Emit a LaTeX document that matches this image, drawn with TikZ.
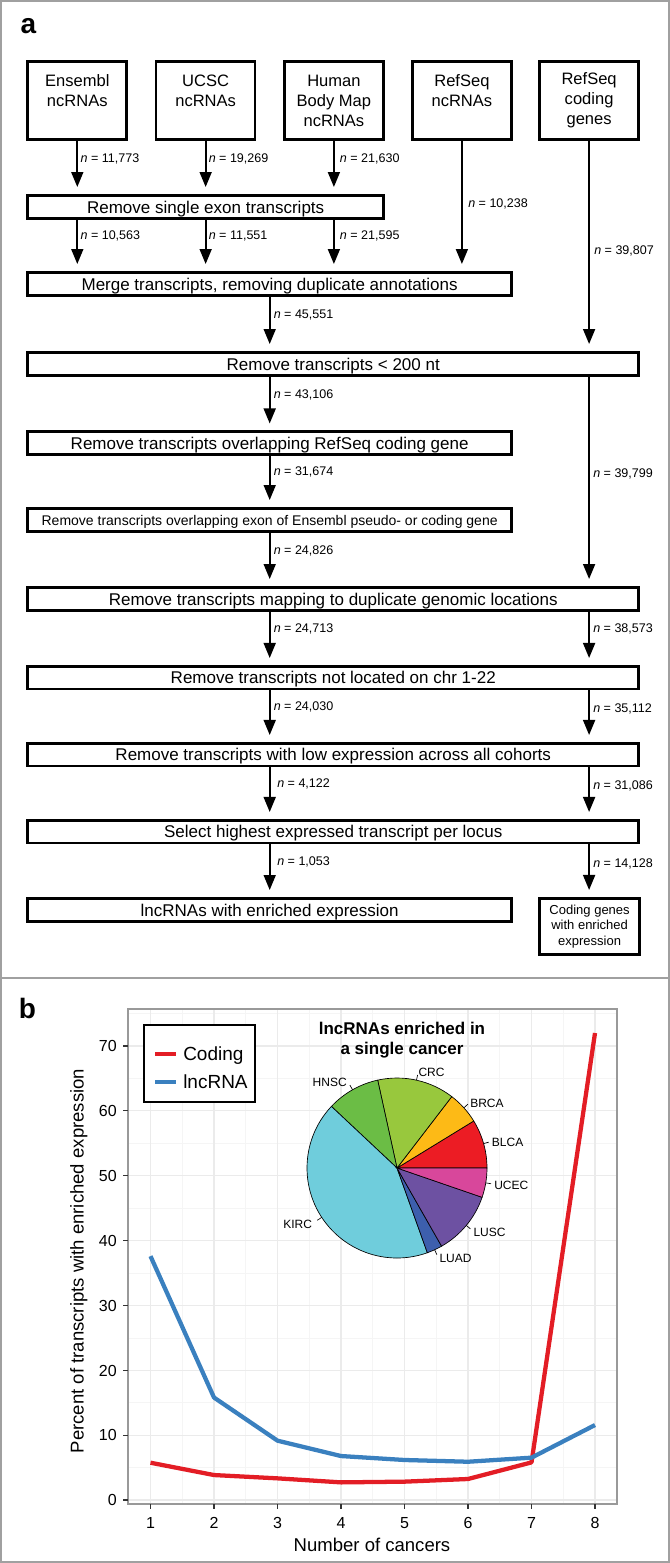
\documentclass[tikz,border=0pt]{standalone}
\usepackage{fontspec}
\setmainfont{Liberation Sans}
\usetikzlibrary{arrows.meta}
\definecolor{framegray}{HTML}{A0A0A0}
\definecolor{codred}{HTML}{E31D25}
\definecolor{lncblue}{HTML}{3A80BF}
\definecolor{cBLCA}{HTML}{EC1C24}
\definecolor{cBRCA}{HTML}{FDBA16}
\definecolor{cCRC}{HTML}{98C83D}
\definecolor{cHNSC}{HTML}{6BBD45}
\definecolor{cKIRC}{HTML}{6FCDDC}
\definecolor{cLUAD}{HTML}{3D5FAD}
\definecolor{cLUSC}{HTML}{6D51A2}
\definecolor{cUCEC}{HTML}{D8479B}
\definecolor{gridmaj}{HTML}{EBEBEB}
\definecolor{gridmin}{HTML}{F5F5F5}
\newcommand\pieslice[3]{\filldraw[fill=#3, draw=black, line width=0.5pt] (0,0) -- (#1:67.5pt) arc[start angle=#1, end angle=#2, radius=67.5pt] -- cycle;}
\begin{document}
\begin{tikzpicture}[x=0.75pt,y=-0.75pt,
  box/.style={draw=black, line width=2pt, inner sep=0pt},
  srcbox/.style={box, align=center, minimum width=74.25pt, minimum height=58.8pt, font=\fontsize{12.4}{15}\selectfont},
  stepbox/.style={box, minimum height=17.5pt, font=\fontsize{12.75}{15}\selectfont, text height=9.1pt, text depth=0pt},
  shortw/.style={minimum width=362.8pt},
  longw/.style={minimum width=458.2pt},
  smallstep/.style={box, minimum height=17.5pt, font=\fontsize{10.5}{12}\selectfont, text height=7.5pt, text depth=0pt},
  endbox/.style={box, align=center, minimum width=75.15pt, minimum height=42.3pt, font=\fontsize{9.75}{11.5}\selectfont},
  arr/.style={line width=1.3pt, -{Triangle[width=9pt,length=11.25pt]}, shorten >=5.25pt},
  nlab/.style={anchor=base west, inner sep=0pt, font=\fontsize{9.4}{11}\selectfont},
  panellab/.style={anchor=base west, inner sep=0pt, font=\bfseries\fontsize{21}{21}\selectfont},
  ticklab/.style={inner sep=0pt, font=\fontsize{12}{12}\selectfont, text height=8.6pt, text depth=0pt},
  tickmark/.style={draw=black!80, line width=0.8pt},
  pielab/.style={inner sep=0pt, font=\fontsize{9}{10}\selectfont},
  leader/.style={draw=black, line width=0.5pt},
]
\useasboundingbox (0,0) rectangle (670,1563);
% frame
\draw[framegray, line width=1.5pt] (1,1) rectangle (669,1562);
\draw[framegray, line width=1.5pt] (1,978) -- (669,978);
\node[panellab] (pa) at (20.3,33) {a};
\node[panellab] (pb) at (18.5,1018) {b};

% ---------- panel a ----------
\node[srcbox] (ens) at (77.3,100.5) {Ensembl\\ncRNAs\\\mbox{}};
\node[srcbox] (ucsc) at (205.65,100.5) {UCSC\\ncRNAs\\\mbox{}};
\node[srcbox] (hbm) at (333.9,100.5) {Human\\Body Map\\ncRNAs};
\node[srcbox] (rsnc) at (461.9,100.5) {RefSeq\\ncRNAs\\\mbox{}};
\node[srcbox] (rscod) at (589.1,100.5) {RefSeq\\coding\\genes};

\node[stepbox, minimum width=266.8pt] (s1) at (205.65,207) {Remove single exon transcripts};
\node[stepbox, shortw] (s2) at (269.65,284) {Merge transcripts, removing duplicate annotations};
\node[stepbox, longw] (s3) at (333.25,364) {Remove transcripts < 200 nt};
\node[stepbox, shortw, minimum height=17.2pt] (s4) at (269.65,443.25) {Remove transcripts overlapping RefSeq coding gene};
\node[smallstep, shortw] (s5) at (269.65,520) {Remove transcripts overlapping exon of Ensembl pseudo- or coding gene};
\node[stepbox, longw] (s6) at (333.25,599) {Remove transcripts mapping to duplicate genomic locations};
\node[stepbox, longw, minimum height=17pt] (s7) at (333.25,677.65) {Remove transcripts not located on chr 1-22};
\node[stepbox, longw, minimum height=17pt] (s8) at (333.25,754.65) {Remove transcripts with low expression across all cohorts};
\node[stepbox, longw, minimum height=17pt] (s9) at (333.25,831.65) {Select highest expressed transcript per locus};
\node[stepbox, shortw] (s10) at (269.65,910) {lncRNAs with enriched expression};
\node[endbox] (cod) at (589.6,926.5) {Coding genes\\with enriched\\expression};

\coordinate (mc) at (269.7,0);
\draw[arr] (ens.south) -- (s1.north -| ens.south);
\draw[arr] (ucsc.south) -- (s1.north -| ucsc.south);
\draw[arr] (hbm.south) -- (s1.north -| hbm.south);
\draw[arr] (s1.south -| ens.south) -- (s2.north -| ens.south);
\draw[arr] (s1.south -| ucsc.south) -- (s2.north -| ucsc.south);
\draw[arr] (s1.south -| hbm.south) -- (s2.north -| hbm.south);
\draw[arr] (rsnc.south) -- (s2.north -| rsnc.south);
\draw[arr] (rscod.south) -- (s3.north -| rscod.south);
\draw[arr] (s2.south -| mc) -- (s3.north -| mc);
\draw[arr] (s3.south -| mc) -- (s4.north -| mc);
\draw[arr] (s4.south -| mc) -- (s5.north -| mc);
\draw[arr] (s5.south -| mc) -- (s6.north -| mc);
\draw[arr] (s6.south -| mc) -- (s7.north -| mc);
\draw[arr] (s7.south -| mc) -- (s8.north -| mc);
\draw[arr] (s8.south -| mc) -- (s9.north -| mc);
\draw[arr] (s9.south -| mc) -- (s10.north -| mc);
\draw[arr] (s3.south -| rscod.south) -- (s6.north -| rscod.south);
\draw[arr] (s6.south -| rscod.south) -- (s7.north -| rscod.south);
\draw[arr] (s7.south -| rscod.south) -- (s8.north -| rscod.south);
\draw[arr] (s8.south -| rscod.south) -- (s9.north -| rscod.south);
\draw[arr] (s9.south -| rscod.south) -- (cod.north -| rscod.south);

\node[nlab] (n1) at (80.3,162.5) {\textit{n} = 11,773};
\node[nlab] (n2) at (208.5,162.5) {\textit{n} = 19,269};
\node[nlab] (n3) at (339.7,162.5) {\textit{n} = 21,630};
\node[nlab] (n4) at (468,207.5) {\textit{n} = 10,238};
\node[nlab] (n5) at (80.3,239.5) {\textit{n} = 10,563};
\node[nlab] (n6) at (208.5,239.5) {\textit{n} = 11,551};
\node[nlab] (n7) at (339.7,239.5) {\textit{n} = 21,595};
\node[nlab] (n8) at (594,254.5) {\textit{n} = 39,807};
\node[nlab] (n9) at (273.5,318.5) {\textit{n} = 45,551};
\node[nlab] (n10) at (273.5,398.5) {\textit{n} = 43,106};
\node[nlab] (n11) at (273.5,475.5) {\textit{n} = 31,674};
\node[nlab] (n12) at (593,477.5) {\textit{n} = 39,799};
\node[nlab] (n13) at (273.5,554.5) {\textit{n} = 24,826};
\node[nlab] (n14) at (273.5,632.5) {\textit{n} = 24,713};
\node[nlab] (n15) at (593,632.5) {\textit{n} = 38,573};
\node[nlab] (n16) at (273.5,710.5) {\textit{n} = 24,030};
\node[nlab] (n17) at (593,712.5) {\textit{n} = 35,112};
\node[nlab] (n18) at (277,787.5) {\textit{n} = 4,122};
\node[nlab] (n19) at (593,789.5) {\textit{n} = 31,086};
\node[nlab] (n20) at (277,865.5) {\textit{n} = 1,053};
\node[nlab] (n21) at (593,867.5) {\textit{n} = 14,128};

% ---------- panel b ----------
\begin{scope}[shift={(87,1500)}, x=47.625pt, y=4.8645pt]
  \foreach \v in {5,15,...,75} \draw[gridmin, line width=0.5pt] (0.6457,\v) -- (8.346,\v);
  \foreach \n in {1.5,2.5,...,7.5} \draw[gridmin, line width=0.5pt] (\n,-0.617) -- (\n,75.7);
  \foreach \v in {0,10,...,70} \draw[gridmaj, line width=0.8pt] (0.6457,\v) -- (8.346,\v);
  \foreach \n in {1,...,8} \draw[gridmaj, line width=0.8pt] (\n,-0.617) -- (\n,75.7);
  \draw[codred, line width=3.2pt, line join=round] plot coordinates {(1,5.75) (2,3.85) (3,3.34) (4,2.72) (5,2.83) (6,3.24) (7,5.8) (8,72.0)};
  \draw[lncblue, line width=3.2pt, line join=round] plot coordinates {(1,37.6) (2,15.8) (3,9.15) (4,6.78) (5,6.17) (6,5.9) (7,6.53) (8,11.56)};
  \draw[black!40, line width=1pt] (0.6457,-0.617) rectangle (8.346,75.7);
\end{scope}

\foreach \n in {1,...,8} {
  \draw[tickmark] ({87+63.5*\n},1504) -- ({87+63.5*\n},1509);
  \node[ticklab] (xt\n) at ({87+63.5*\n},1522.5) {\n};
}
\foreach \k/\lab in {0/0,1/10,2/20,3/30,4/40,5/50,6/60,7/70} {
  \draw[tickmark] (123,{1500-64.86*\k}) -- (128,{1500-64.86*\k});
  \node[ticklab, anchor=east] (yt\k) at (117,{1500-64.86*\k}) {\lab};
}
\node[anchor=base, inner sep=0pt, font=\fontsize{13.9}{14}\selectfont] (xtitle) at (372,1551.7) {Number of cancers};
\node[anchor=base, rotate=90, inner sep=0pt, font=\fontsize{13.9}{14}\selectfont] (ytitle) at (83.5,1261) {Percent of transcripts with enriched expression};

% legend
\draw[fill=white, draw=black, line width=1.2pt] (144,1025) rectangle (255,1102);
\draw[codred, line width=3.4pt] (155,1054) -- (176,1054);
\draw[lncblue, line width=3.4pt] (155,1082) -- (176,1082);
\node[anchor=base west, inner sep=0pt, font=\fontsize{14.25}{15}\selectfont] (legc) at (183,1060.8) {Coding};
\node[anchor=base west, inner sep=0pt, font=\fontsize{14.25}{15}\selectfont] (legl) at (183,1088.8) {lncRNA};

% pie
\node[anchor=north, align=center, inner sep=0pt, font=\bfseries\fontsize{12.75}{15.2}\selectfont] (ptitle) at (402,1021.7) {lncRNAs enriched in\\a single cancer};
\begin{scope}[shift={(397,1168)}, x=1pt, y=1pt]
  \pieslice{0}{31.5}{cBLCA}
  \pieslice{31.5}{52.5}{cBRCA}
  \pieslice{52.5}{102.4}{cCRC}
  \pieslice{102.4}{136.8}{cHNSC}
  \pieslice{136.8}{289.7}{cKIRC}
  \pieslice{289.7}{299.7}{cLUAD}
  \pieslice{299.7}{341}{cLUSC}
  \pieslice{341}{360}{cUCEC}
  \foreach \m in {15.75,42,77.5,119.6,213.25,294.7,320.35,350.5}
    \draw[leader] (\m:67.5pt) -- (\m:71.5pt);
\end{scope}
\node[pielab, anchor=base east] (lHNSC) at (347,1086.7) {HNSC};
\node[pielab, anchor=base west] (lCRC) at (418.3,1076.7) {CRC};
\node[pielab, anchor=base west] (lBRCA) at (470,1107) {BRCA};
\node[pielab, anchor=base west] (lBLCA) at (491.7,1146.5) {BLCA};
\node[pielab, anchor=base west] (lUCEC) at (494,1189.5) {UCEC};
\node[pielab, anchor=base west] (lLUSC) at (473.3,1236) {LUSC};
\node[pielab, anchor=base east] (lKIRC) at (312.3,1228) {KIRC};
\node[pielab, anchor=base west] (lLUAD) at (439.3,1262.5) {LUAD};
\end{tikzpicture}
\end{document}
